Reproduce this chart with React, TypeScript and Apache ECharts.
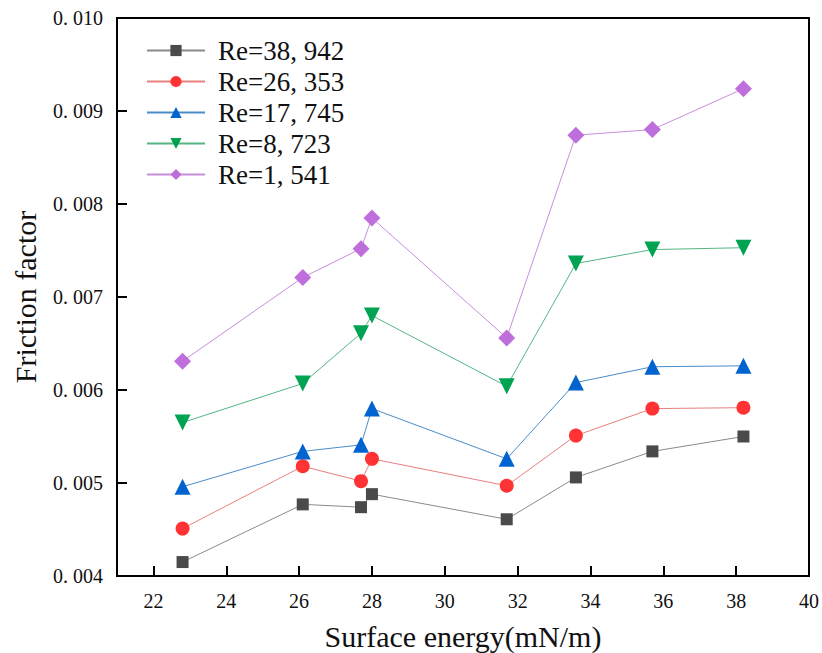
import React, { useEffect, useRef } from "react";
import * as echarts from "echarts";

const surfaceEnergy = [22.8, 26.1, 27.7, 28.0, 31.7, 33.6, 35.7, 38.2];
const re38942 = [0.00415, 0.00477, 0.00474, 0.00488, 0.00461, 0.00506, 0.00534, 0.0055];
const re26353 = [0.00451, 0.00518, 0.00502, 0.00526, 0.00497, 0.00551, 0.0058, 0.00581];
const re17745 = [0.00496, 0.00534, 0.00541, 0.0058, 0.00526, 0.00608, 0.00625, 0.00626];
const re8723 = [0.00565, 0.00607, 0.00661, 0.0068, 0.00604, 0.00736, 0.00751, 0.00753];
const re1541 = [0.00631, 0.00721, 0.00752, 0.00785, 0.00656, 0.00874, 0.0088, 0.00924];
const xTicks = [22, 24, 26, 28, 30, 32, 34, 36, 38, 40];
const seriesNames = ["Re=38, 942", "Re=26, 353", "Re=17, 745", "Re=8, 723", "Re=1, 541"];

const serif = "Liberation Serif";

export default function App() {
  const ref = useRef<HTMLDivElement>(null);
  useEffect(() => {
    if (!ref.current) return;
    const chart = echarts.init(ref.current, undefined, { renderer: "svg" });
    const pair = (ys: number[]) => surfaceEnergy.map((x, i) => [x, ys[i]]);
    const mk = (
      name: string,
      ys: number[],
      symbol: string,
      size: number,
      markerColor: string,
      lineColor: string,
      rotate = 0
    ) => ({
      name,
      type: "line",
      data: pair(ys),
      symbol,
      symbolSize: size,
      symbolRotate: rotate,
      showAllSymbol: true,
      itemStyle: { color: markerColor },
      lineStyle: { color: lineColor, width: 1 },
      emphasis: { disabled: true },
    });
    chart.setOption({
      animation: false,
      backgroundColor: "#fff",
      textStyle: { fontFamily: serif },
      grid: {
        left: 117,
        right: 13,
        top: 18,
        bottom: 77,
        show: true,
        borderColor: "#000",
        borderWidth: 2,
        containLabel: false,
        outerBoundsMode: "none",
      },
      legend: {
        left: 141,
        top: 32,
        orient: "vertical",
        itemWidth: 58,
        itemHeight: 14,
        itemGap: 4,
        data: seriesNames,
        textStyle: {
          fontFamily: serif,
          fontSize: 27,
          lineHeight: 26,
          color: "#111",
          padding: [0, 0, 0, 8],
        },
      },
      xAxis: {
        type: "value",
        min: 21,
        max: 40,
        name: "Surface energy(mN/m)",
        nameLocation: "middle",
        nameGap: 45,
        nameTextStyle: { fontFamily: serif, fontSize: 30, color: "#111" },
        splitLine: { show: false },
        axisLine: { lineStyle: { color: "#000", width: 2 } },
        axisTick: {
          inside: true,
          length: 10,
          lineStyle: { color: "#000", width: 2 },
          customValues: xTicks,
        },
        axisLabel: {
          customValues: xTicks,
          fontFamily: serif,
          fontSize: 20,
          color: "#111",
          margin: 15,
        },
      },
      yAxis: {
        type: "value",
        min: 0.004,
        max: 0.01,
        interval: 0.001,
        name: "Friction factor",
        nameLocation: "middle",
        nameGap: 77,
        nameTextStyle: { fontFamily: serif, fontSize: 30, color: "#111" },
        splitLine: { show: false },
        axisLine: { lineStyle: { color: "#000", width: 2 } },
        axisTick: { inside: true, length: 10, lineStyle: { color: "#000", width: 2 } },
        axisLabel: {
          fontFamily: serif,
          fontSize: 20,
          color: "#111",
          margin: 14,
          formatter: (v: number) => v.toFixed(3).replace(".", ". "),
        },
      },
      series: [
        mk(seriesNames[0], re38942, "rect", 12, "#4a4a4a", "#8a8a8a"),
        mk(seriesNames[1], re26353, "circle", 14, "#ff3333", "#e88080"),
        mk(seriesNames[2], re17745, "triangle", 16, "#0063d0", "#4a8cc8"),
        mk(seriesNames[3], re8723, "triangle", 16, "#00a352", "#55b583", 180),
        mk(seriesNames[4], re1541, "diamond", 17, "#bf6fdc", "#c68fdc"),
      ],
    });
    return () => chart.dispose();
  }, []);
  return (
    <div
      ref={ref}
      style={{ position: "absolute", left: 0, top: 0, width: 822, height: 653 }}
    />
  );
}
